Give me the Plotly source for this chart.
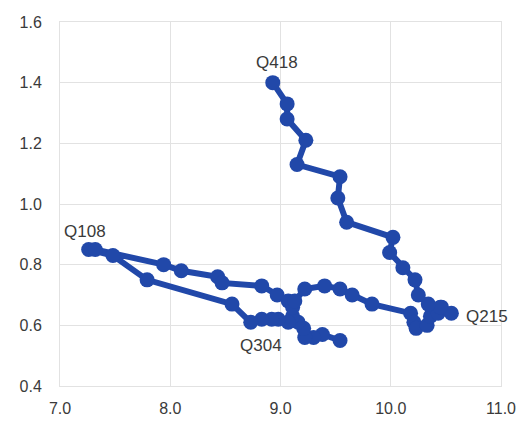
import plotly.graph_objects as go

# Path of the series, in order (Q304 start -> Q108 -> Q215 -> Q418 end)
x_vals = [
    9.54, 9.38, 9.30, 9.22, 9.21, 9.16, 9.11, 9.07, 8.98, 8.92, 8.83, 8.73,
    8.56, 7.79, 7.48, 7.26, 7.32,
    7.94, 8.10, 8.43, 8.47, 8.83, 8.97, 9.07, 9.11, 9.13,
    9.22, 9.40, 9.54, 9.65, 9.83,
    10.18, 10.21, 10.23, 10.33, 10.36, 10.43, 10.46, 10.55,
    10.45, 10.34, 10.25, 10.22, 10.11, 9.99, 10.02,
    9.60, 9.52, 9.54, 9.15, 9.23, 9.06, 9.06, 8.93,
]
y_vals = [
    0.55, 0.57, 0.56, 0.56, 0.59, 0.61, 0.63, 0.61, 0.62, 0.62, 0.62, 0.61,
    0.67, 0.75, 0.83, 0.85, 0.85,
    0.80, 0.78, 0.76, 0.74, 0.73, 0.70, 0.68, 0.66, 0.68,
    0.72, 0.73, 0.72, 0.70, 0.67,
    0.64, 0.61, 0.59, 0.60, 0.63, 0.64, 0.66, 0.64,
    0.66, 0.67, 0.70, 0.75, 0.79, 0.84, 0.89,
    0.94, 1.02, 1.09, 1.13, 1.21, 1.28, 1.33, 1.40,
]

label_texts = ["Q304", "Q108", "Q215", "Q418"]
label_points = [0, 16, 38, 53]

x_ticks = [7.0, 8.0, 9.0, 10.0, 11.0]
y_ticks = [0.4, 0.6, 0.8, 1.0, 1.2, 1.4, 1.6]

BLUE = "#2148A9"
GRID = "#e2e2e2"
TXT = "#3a3a3a"

fig = go.Figure()
fig.add_trace(go.Scatter(
    x=x_vals, y=y_vals, mode="lines+markers",
    line=dict(color=BLUE, width=6),
    marker=dict(color=BLUE, size=15),
    hoverinfo="skip", showlegend=False,
))

# label placement offsets (pixels) relative to the labelled point
offsets = {"Q304": (-79, -5, "center"), "Q108": (-10, 18, "center"),
           "Q215": (13, -3, "left"), "Q418": (4, 20, "center")}
for t, i in zip(label_texts, label_points):
    dx, dy, anc = offsets[t]
    fig.add_annotation(x=x_vals[i], y=y_vals[i], text=t, showarrow=False,
                       xshift=dx, yshift=dy, xanchor=anc, yanchor="middle",
                       font=dict(family="Liberation Sans, Arial", size=17, color=TXT))

axis_common = dict(showgrid=True, gridcolor=GRID, gridwidth=1, zeroline=False,
                   showline=True, linecolor=GRID, linewidth=1, mirror=True,
                   tickfont=dict(family="Liberation Sans, Arial", size=16, color=TXT),
                   ticks="", tickformat=".1f", automargin=False)
fig.update_xaxes(range=[7, 11], tickvals=x_ticks, ticklabelstandoff=8, **axis_common)
fig.update_yaxes(range=[0.4, 1.6], tickvals=y_ticks, ticklabelstandoff=14, **axis_common)

# page body adds an 8px offset, so the figure is sized to fit the window
fig.update_layout(width=519, height=419, margin=dict(l=52, r=26, t=14, b=41),
                  plot_bgcolor="white", paper_bgcolor="white")
fig.write_html("out.html")
